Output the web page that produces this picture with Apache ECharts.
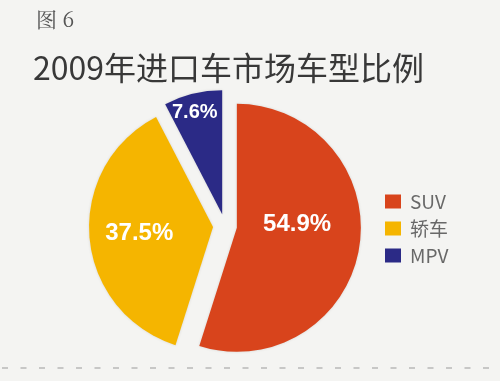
<!DOCTYPE html>
<html><head><meta charset="utf-8">
<script src="https://cdn.jsdelivr.net/npm/echarts@6/dist/echarts.min.js"></script>
<style>html,body{margin:0;padding:0;background:#f4f4f2;}#c{width:500px;height:381px;}</style>
</head><body><div id="c"></div>
<script>
const categories = ['SUV', '轿车', 'MPV'];
const values = [54.9, 37.5, 7.6];
const colors = ['#d8441c', '#f5b500', '#2b2a86'];
const labelSizes = [24, 24, 20];
const labelShift = [[-4, -13], [-9, 1], [-12, -39]];

const chart = echarts.init(document.getElementById('c'), null, {renderer: 'canvas'});
const dashes = [];
for (let x = 2; x < 500; x += 18.5) {
  dashes.push({type: 'line', shape: {x1: x, y1: 368, x2: x + 6, y2: 368}, style: {stroke: '#a8a8a8', lineWidth: 1.2}});
}
chart.setOption({
  backgroundColor: '#f4f4f2',
  animation: false,
  title: [
    {text: '图 6', left: 31, top: 4, textStyle: {fontFamily: 'Noto Serif CJK SC, Noto Sans CJK SC, serif', fontWeight: 'normal', fontSize: 21, color: '#555'}},
    {text: '2009年进口车市场车型比例', left: 28, top: 47, textStyle: {fontFamily: 'Noto Sans CJK SC', fontWeight: 'normal', fontSize: 32, color: '#383838'}}
  ],
  legend: {
    orient: 'vertical', left: 380, top: 187,
    itemWidth: 16, itemHeight: 14, itemGap: 8, icon: 'rect',
    selectedMode: false,
    textStyle: {fontFamily: 'Noto Sans CJK SC', fontSize: 19, color: '#686868', padding: [0, 0, 0, 4]},
    data: categories
  },
  graphic: dashes,
  series: [{
    type: 'pie',
    center: [225, 226],
    radius: [0, 124],
    startAngle: 90,
    clockwise: true,
    selectedMode: 'multiple',
    selectedOffset: 12,
    data: categories.map((n, i) => ({
      name: n, value: values[i], selected: true,
      itemStyle: {color: colors[i]},
      label: {fontSize: labelSizes[i]}
    })),
    itemStyle: {shadowColor: 'rgba(0,0,0,0.12)', shadowBlur: 3},
    label: {
      position: 'inside',
      overflow: 'none',
      formatter: p => p.value.toFixed(1) + '%',
      fontFamily: 'Liberation Sans Narrow, Liberation Sans, Arial, sans-serif',
      fontWeight: 'bold', color: '#fff'
    },
    labelLayout: p => ({dx: labelShift[p.dataIndex][0], dy: labelShift[p.dataIndex][1]}),
    labelLine: {show: false},
    emphasis: {disabled: true}
  }]
});
</script></body></html>
